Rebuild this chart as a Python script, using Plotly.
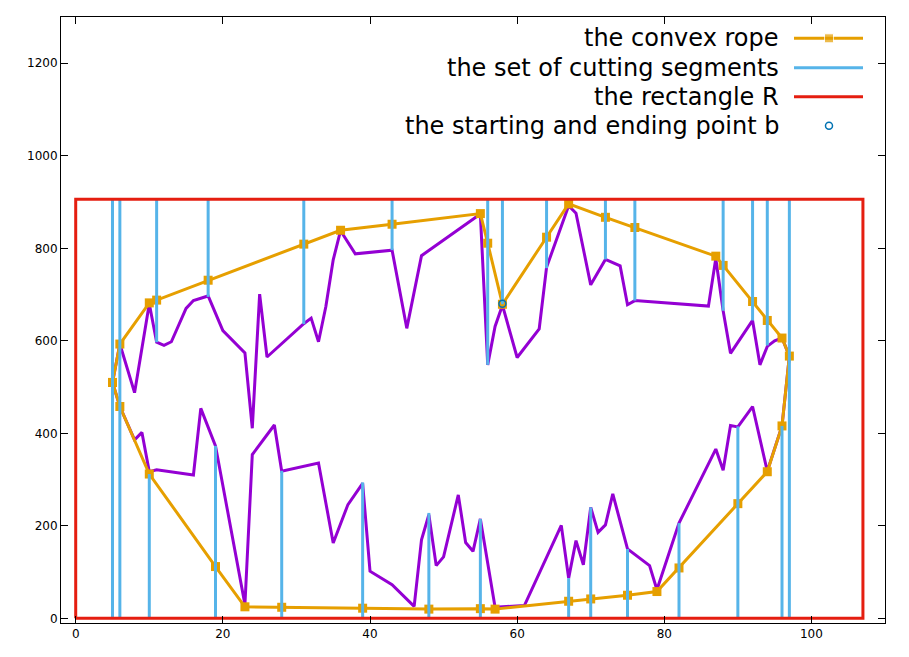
import plotly.graph_objects as go

# the convex rope (closed, starts/ends at leftmost point)
rope_x = [5, 6, 10, 11, 18, 31, 36, 43, 55, 56, 58, 64, 67, 72, 76, 87, 88, 92, 94, 96, 97,
          96, 94, 90, 82, 79, 75, 70, 67, 57, 55, 48, 39, 28, 23, 19, 10, 6, 5]
rope_y = [510, 593, 682, 688, 731, 809, 839, 852, 875, 811, 679, 824, 896, 867, 845, 783, 763, 685, 644, 606, 567,
          416, 317, 248, 109, 58, 50, 42, 37, 20, 21, 20, 22, 24, 25, 112, 312, 458, 510]

# the polygon (purple)
poly_x = [5, 6, 8, 10, 11, 12, 13, 15, 16, 18, 20, 23, 24, 25, 26, 31, 32, 33, 34, 35, 36, 38, 43, 45, 47,
          55, 56, 57, 58, 60, 63, 64, 67, 68, 70, 72, 74, 75, 76, 86, 87, 88, 89, 92, 93, 94, 95, 96, 97,
          96, 94, 92, 90, 89, 88, 87, 82, 79, 78, 75, 73, 72, 71, 70, 69, 68, 67, 66, 61, 57,
          55, 54, 53, 52, 50, 49, 48, 47, 46, 43, 40, 39, 37, 35, 33, 28, 27, 24, 23, 19, 17, 16,
          11, 10, 9, 8, 6, 5]
poly_y = [510, 593, 488, 680, 597, 590, 598, 670, 687, 697, 622, 574, 411, 701, 565, 637, 649, 598, 674, 775,
          838, 788, 796, 627, 784, 874, 548, 631, 677, 564, 626, 759, 892, 876, 721, 776, 762, 678, 687, 675,
          778, 665, 573, 644, 548, 588, 600, 606, 567,
          416, 318, 458, 414, 417, 320, 366, 206, 62, 114, 150, 269, 202, 186, 240, 116, 168, 87, 201, 28, 24,
          215, 145, 164, 267, 133, 114, 224, 170, 26, 73, 102, 292, 246, 163, 336, 318, 418, 354, 30, 373, 454,
          310, 321, 317, 402, 386, 458, 510]

# cutting segments: x, y from, y to
seg_x = [5, 6, 11, 18, 31, 43, 56, 58, 64, 72, 76, 88, 92, 94, 97,
         10, 19, 28, 39, 48, 55, 67, 70, 75, 82, 90, 96]
seg_y0 = [906, 906, 906, 906, 906, 906, 906, 906, 906, 906, 906, 906, 906, 906, 906,
          0, 0, 0, 0, 0, 0, 0, 0, 0, 0, 0, 0]
seg_y1 = [0, 0, 597, 695, 636, 796, 548, 679, 757, 776, 687, 665, 644, 590, 0,
          312, 373, 319, 294, 228, 215, 87, 240, 150, 206, 415, 416]

# rectangle R
rect_x = [0, 107]
rect_y = [0, 906]

# starting / ending point b
b_x = [58]
b_y = [680]

legend_names = ["the convex rope", "the set of cutting segments", "the rectangle R",
                "the starting and ending point b"]

ORANGE = "#E69F00"
PURPLE = "#9400D3"
BLUE = "#56B4E9"
RED = "#E51E10"
DARKBLUE = "#0072B2"
FONT = "DejaVu Sans"

sx, sy = [], []
for x, a, b in zip(seg_x, seg_y0, seg_y1):
    sx += [x, x, None]
    sy += [a, b, None]

fig = go.Figure()
fig.add_trace(go.Scatter(x=poly_x, y=poly_y, mode="lines", line=dict(color=PURPLE, width=3)))
fig.add_trace(go.Scatter(x=rope_x, y=rope_y, mode="lines+markers",
                         line=dict(color=ORANGE, width=3),
                         marker=dict(symbol="square", size=9, color=ORANGE)))
fig.add_trace(go.Scatter(x=sx, y=sy, mode="lines", line=dict(color=BLUE, width=3)))
fig.add_trace(go.Scatter(x=[rect_x[0], rect_x[1], rect_x[1], rect_x[0], rect_x[0]],
                         y=[rect_y[0], rect_y[0], rect_y[1], rect_y[1], rect_y[0]],
                         mode="lines", line=dict(color=RED, width=3)))
fig.add_trace(go.Scatter(x=b_x, y=b_y, mode="markers",
                         marker=dict(symbol="circle-open", size=7, color=DARKBLUE, line=dict(width=1.5))))

# hand-made legend (right-aligned text, sample on the right) on an overlay axis 0..1
W, H = 909, 657
L, R, T, B = 61, 24, 17, 34
pw, ph = W - L - R, H - T - B
px2x = lambda p: (p - L) / pw
py2y = lambda p: (H - B - p) / ph
rows = [38.3, 67.7, 96.7, 125.7]
lx0, lx1, lxm = px2x(794), px2x(863), px2x(829)

fig.add_trace(go.Scatter(x=[lx0, lxm, lx1], y=[py2y(rows[0])] * 3, mode="lines+markers",
                         line=dict(color=ORANGE, width=3),
                         marker=dict(symbol="square", size=[0, 9, 0], color=ORANGE),
                         xaxis="x2", yaxis="y2"))
fig.add_trace(go.Scatter(x=[lx0, lx1], y=[py2y(rows[1])] * 2, mode="lines",
                         line=dict(color=BLUE, width=3), xaxis="x2", yaxis="y2"))
fig.add_trace(go.Scatter(x=[lx0, lx1], y=[py2y(rows[2])] * 2, mode="lines",
                         line=dict(color=RED, width=3), xaxis="x2", yaxis="y2"))
fig.add_trace(go.Scatter(x=[lxm], y=[py2y(rows[3])], mode="markers",
                         marker=dict(symbol="circle-open", size=7, color=DARKBLUE, line=dict(width=1.5)),
                         xaxis="x2", yaxis="y2"))

for name, r in zip(legend_names, rows):
    fig.add_annotation(text=name, x=px2x(781), y=py2y(r), xref="paper", yref="paper",
                       xanchor="right", yanchor="middle", showarrow=False,
                       font=dict(size=24, color="black", family=FONT))

axis_style = dict(showgrid=False, zeroline=False, showline=True, linecolor="black", linewidth=1,
                  mirror="ticks", ticks="inside", ticklen=7, tickcolor="black", automargin=False,
                  tickfont=dict(size=12, color="black", family=FONT))

fig.update_layout(
    width=W, height=H,
    margin=dict(l=L, r=R, t=T, b=B),
    paper_bgcolor="white", plot_bgcolor="white",
    showlegend=False,
    xaxis=dict(range=[-2, 110], tickvals=[0, 20, 40, 60, 80, 100], **axis_style),
    yaxis=dict(range=[-10, 1300], tickvals=[0, 200, 400, 600, 800, 1000, 1200], **axis_style),
    xaxis2=dict(overlaying="x", range=[0, 1], visible=False),
    yaxis2=dict(overlaying="y", range=[0, 1], visible=False),
)

# drop the default page margin so the figure sits at the window's top-left corner
fig.write_html("out.html", config={"displayModeBar": False},
               post_script="document.body.style.margin='0';")
